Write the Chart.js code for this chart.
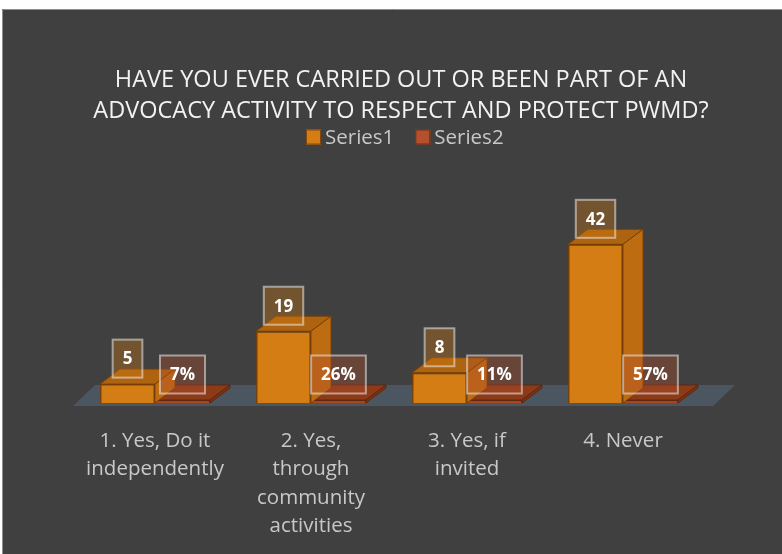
<!DOCTYPE html>
<html>
<head>
<meta charset="utf-8">
<script src="https://cdn.jsdelivr.net/npm/chart.js@4.4.0/dist/chart.umd.min.js"></script>
<style>
  html, body { margin: 0; padding: 0; background: #fff; }
  canvas { display: block; }
</style>
</head>
<body>
<canvas id="myBarChart" width="782" height="554"></canvas>
<script>
// data
var categories = [
  ['1. Yes, Do it', 'independently'],
  ['2. Yes,', 'through', 'community', 'activities'],
  ['3. Yes, if', 'invited'],
  ['4. Never']
];
var series1 = [5, 19, 8, 42];
var series2 = [0.07, 0.26, 0.11, 0.57];
var seriesNames = ['Series1', 'Series2'];
var titleLines = ['HAVE YOU EVER CARRIED OUT OR BEEN PART OF AN', 'ADVOCACY ACTIVITY TO RESPECT AND PROTECT PWMD?'];

var FONT = "'Open Sans', 'Noto Sans', sans-serif";
var DEPTH = { dx: 20, dy: -15 };
var look = [
  { front: '#d57d15', top: '#ad630f', side: '#bd6c12', edge: 'rgba(120,62,5,0.9)', legend: '#d57d15', legendEdge: '#85480c', label: 'rgba(212,124,20,0.35)' },
  { front: '#a8461f', top: '#8c3a18', side: '#7a3215', edge: 'rgba(95,38,12,0.9)', legend: '#b4502d', legendEdge: '#6e2d14', label: 'rgba(180,80,45,0.35)' }
];

function poly(ctx, pts, fill, stroke) {
  ctx.beginPath();
  ctx.moveTo(pts[0][0], pts[0][1]);
  for (var i = 1; i < pts.length; i++) ctx.lineTo(pts[i][0], pts[i][1]);
  ctx.closePath();
  ctx.fillStyle = fill;
  ctx.fill();
  if (stroke) { ctx.strokeStyle = stroke; ctx.lineWidth = 1; ctx.stroke(); }
}

var chartFrame = {
  id: 'chartFrame',
  beforeDraw: function (chart) {
    var ctx = chart.ctx;
    ctx.save();
    ctx.fillStyle = '#ffffff';
    ctx.fillRect(0, 0, chart.width, chart.height);
    ctx.fillStyle = '#404040';
    ctx.fillRect(2, 9, chart.width - 2, chart.height - 9);
    ctx.strokeStyle = '#8f8f8f';
    ctx.lineWidth = 1;
    ctx.beginPath();
    ctx.moveTo(2.5, chart.height);
    ctx.lineTo(2.5, 9.5);
    ctx.lineTo(chart.width, 9.5);
    ctx.stroke();

    // title
    ctx.font = '23.5px ' + FONT;
    ctx.fillStyle = '#f2f2f2';
    ctx.textAlign = 'center';
    ctx.textBaseline = 'middle';
    titleLines.forEach(function (t, i) { ctx.fillText(t, 401, 80.5 + i * 31); });

    // legend
    ctx.font = '20.5px ' + FONT;
    ctx.textAlign = 'left';
    var x = 306, cy = 137;
    seriesNames.forEach(function (n, i) {
      ctx.fillStyle = look[i].legend;
      ctx.fillRect(x, cy - 7.5, 15, 15);
      ctx.strokeStyle = look[i].legendEdge;
      ctx.strokeRect(x + 0.5, cy - 7, 14, 14);
      ctx.fillStyle = '#c8c8c8';
      ctx.fillText(n, x + 19, cy + 1);
      x += 15 + 4 + ctx.measureText(n).width + 21;
    });
    ctx.restore();
  },
  beforeDatasetsDraw: function (chart) {
    // floor
    var ctx = chart.ctx, a = chart.chartArea;
    var y0 = chart.scales.y.getPixelForValue(0);
    ctx.save();
    poly(ctx, [
      [a.left - 4, y0 + 3], [a.left + 18, y0 - 18],
      [a.right + 34, y0 - 18], [a.right + 12, y0 + 3]
    ], '#4c5661');
    ctx.restore();
  },
  beforeDatasetDraw: function (chart, args) {
    // top and side faces, Chart.js draws the front face on top
    var ctx = chart.ctx, c = look[args.index];
    ctx.save();
    args.meta.data.forEach(function (el) {
      var p = el.getProps(['x', 'y', 'base', 'width'], true);
      var l = p.x - p.width / 2, r = p.x + p.width / 2;
      var t = Math.min(p.y, p.base), b = Math.max(p.y, p.base);
      poly(ctx, [[l, t], [l + DEPTH.dx, t + DEPTH.dy], [r + DEPTH.dx, t + DEPTH.dy], [r, t]], c.top, c.edge);
      poly(ctx, [[r, t], [r + DEPTH.dx, t + DEPTH.dy], [r + DEPTH.dx, b + DEPTH.dy], [r, b]], c.side, c.edge);
    });
    ctx.restore();
  },
  afterDatasetsDraw: function (chart) {
    // data label boxes
    var ctx = chart.ctx;
    ctx.save();
    ctx.font = 'bold 17px ' + FONT;
    ctx.textAlign = 'center';
    ctx.textBaseline = 'middle';
    chart.data.datasets.forEach(function (ds, di) {
      chart.getDatasetMeta(di).data.forEach(function (el, i) {
        var v = ds.data[i];
        var txt = di === 0 ? String(v) : Math.round(v * 100) + '%';
        var p = el.getProps(['x', 'y', 'base'], true);
        var top = Math.min(p.y, p.base);
        var w = ctx.measureText(txt).width + 20, h = 38;
        var bx = p.x - w / 2, by = top - 6.5 - h;
        ctx.fillStyle = look[di].label;
        ctx.fillRect(bx, by, w, h);
        ctx.strokeStyle = 'rgba(235,235,235,0.55)';
        ctx.lineWidth = 2;
        ctx.strokeRect(bx, by, w, h);
        ctx.fillStyle = '#ffffff';
        ctx.fillText(txt, p.x, by + h / 2 + 1);
      });
    });
    ctx.restore();
  }
};

var ctx = document.getElementById('myBarChart').getContext('2d');
var myBarChart = new Chart(ctx, {
  type: 'bar',
  data: {
    labels: categories,
    datasets: [
      {
        label: seriesNames[0],
        data: series1,
        backgroundColor: look[0].front,
        borderColor: look[0].edge,
        borderWidth: 1.5
      },
      {
        label: seriesNames[1],
        data: series2,
        backgroundColor: look[1].front,
        borderColor: look[1].edge,
        borderWidth: 1,
        minBarLength: 3
      }
    ]
  },
  options: {
    responsive: false,
    animation: false,
    devicePixelRatio: 1,
    categoryPercentage: 0.705,
    barPercentage: 1,
    layout: { padding: { left: 77, right: 81, top: 233, bottom: 14 } },
    plugins: {
      legend: { display: false },
      tooltip: { enabled: false },
      title: { display: false }
    },
    scales: {
      x: {
        grid: { display: false, drawTicks: false },
        border: { display: false },
        ticks: {
          color: '#c8c8c8',
          font: { family: FONT, size: 20.5, lineHeight: 28.3 / 20.5 },
          padding: 24,
          maxRotation: 0,
          autoSkip: false
        },
        afterFit: function (scale) { scale.height = 137; }
      },
      y: {
        display: false,
        min: 0,
        max: 45
      }
    }
  },
  plugins: [chartFrame]
});
</script>
</body>
</html>
